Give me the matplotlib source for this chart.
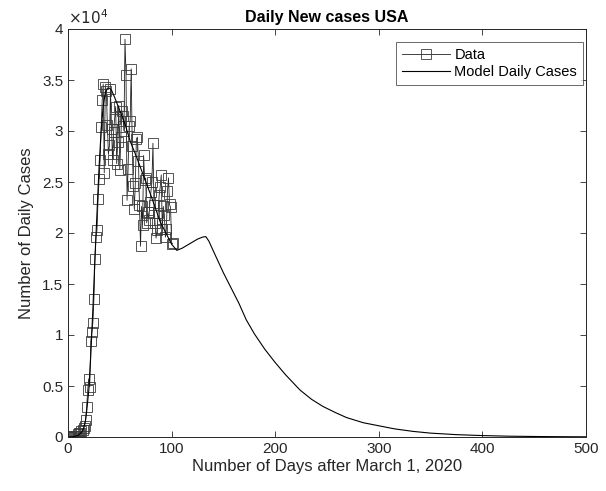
import matplotlib
matplotlib.use("Agg")
import matplotlib.pyplot as plt
from matplotlib.ticker import FuncFormatter

plt.rcParams['font.family'] = ['Liberation Sans', 'DejaVu Sans']

# Observed daily cases (days after March 1, 2020)
data_days = list(range(0, 102))
data_cases = [
    5,
    10, 20, 25, 30, 60, 70, 120, 110, 120, 300,
    350, 420, 560, 650, 900, 1050, 1700, 2900, 4600, 5700,
    4900, 9400, 10300, 11200, 13500, 17500, 19600, 20300, 23300, 25300,
    27200, 30400, 33000, 34600, 25900, 34300, 33900, 30600, 27700, 28600,
    34100, 30200, 27200, 29900, 31200, 32400, 26800, 28900, 32500, 26200,
    29400, 32000, 31500, 30000, 39000, 35500, 23200, 26300, 30500, 31000,
    36100, 28500, 24600, 22400, 24900, 29200, 29400, 27100, 22700, 18700,
    22600, 20800, 27600, 25200, 25400, 21000, 22100, 21300, 23000, 24000,
    25000, 28800, 22700, 21000, 19500, 20300, 22000, 23700, 24500, 25700,
    20400, 22600, 21800, 19600, 20400, 24100, 25400, 22800, 22500, 18900,
    19000,
]

# Model daily cases
model_days = [0, 5, 10, 13, 15, 17, 18, 20, 22, 24, 26, 28, 30, 32, 34, 36, 38, 40,
              42, 45, 50, 55, 60, 66, 70, 80, 89, 95, 100, 105, 110, 115, 120, 125,
              130, 133, 136, 140, 145, 150, 155, 160, 165, 172, 180, 190, 200, 210,
              224, 235, 246, 258, 269, 285, 300, 315, 333, 350, 375, 400, 425, 450,
              475, 500]
model_cases = [0, 30, 150, 450, 800, 1700, 2500, 4500, 8000, 12500, 17500, 22000,
               26500, 30000, 32500, 33700, 34200, 34200, 34000, 33300, 32000, 30700,
               29000, 27500, 26400, 23700, 21100, 19900, 18900, 18300, 18500, 18800,
               19100, 19400, 19600, 19650, 19200, 18300, 17200, 16100, 15100, 14100,
               13100, 11500, 10100, 8600, 7300, 6100, 4600, 3700, 3000, 2400, 1900,
               1400, 1100, 800, 550, 380, 230, 140, 80, 50, 30, 18]

x_ticks = [0, 100, 200, 300, 400, 500]
y_ticks = [0, 5000, 10000, 15000, 20000, 25000, 30000, 35000, 40000]

fig = plt.figure(figsize=(6.06, 4.91), dpi=100)
ax = fig.add_axes([68/606, 1-437/491, (586-68)/606, (437-29)/491])

ax.plot(data_days, data_cases, color='#222222', lw=0.6, marker='s', ms=6.8,
        mfc='none', mec='#3a3a3a', mew=0.6, label='Data')
ax.plot(model_days, model_cases, color='black', lw=0.8, label='Model Daily Cases')

ax.set_xlim(0, 500)
ax.set_ylim(0, 40000)
ax.set_xticks(x_ticks)
ax.set_yticks(y_ticks)
ax.yaxis.set_major_formatter(FuncFormatter(lambda v, p: f'{v/1e4:g}'))
ax.tick_params(direction='in', top=True, right=True, length=4, width=0.6,
               labelsize=11, colors='#262626')
for s in ax.spines.values():
    s.set_linewidth(0.7)
    s.set_color('#262626')

ax.text(0.0, 1.005, r'$\times10^{4}$', transform=ax.transAxes, fontsize=11,
        color='#262626', ha='left', va='bottom')
ax.set_title('Daily New cases USA', fontsize=11.5, fontweight='bold', pad=5)
ax.set_xlabel('Number of Days after March 1, 2020', fontsize=12, color='#262626', labelpad=2)
ax.set_ylabel('Number of Daily Cases', fontsize=12, color='#262626', labelpad=6)

leg = ax.legend(loc='upper right', bbox_to_anchor=(0.994, 0.968), fontsize=10.5,
                frameon=True, fancybox=False, edgecolor='#262626', borderpad=0.4,
                handlelength=3.3, handletextpad=0.3, labelspacing=0.2, borderaxespad=0)
leg.get_frame().set_linewidth(0.6)

fig.savefig('out.png', dpi=100)
